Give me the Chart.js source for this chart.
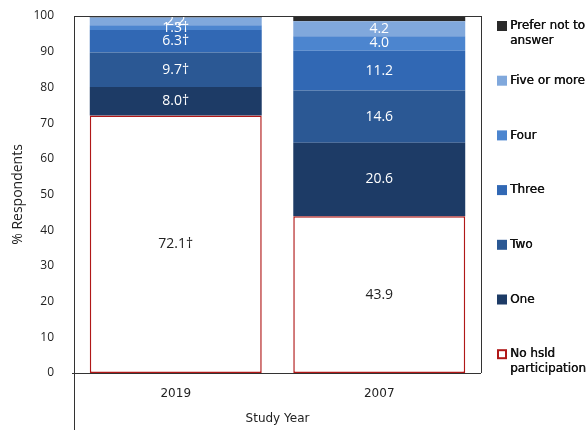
<!DOCTYPE html>
<html>
<head>
<meta charset="utf-8">
<script src="https://cdn.jsdelivr.net/npm/chart.js@4/dist/chart.umd.min.js"></script>
<style>
  html, body { margin: 0; padding: 0; background: #fff; }
  #wrap { width: 588px; height: 430px; position: relative; }
</style>
</head>
<body>
<div id="wrap"><canvas id="chart" width="588" height="430"></canvas></div>
<script>
// categories (study years)
var years = ["2019", "2007"];

// series, bottom to top of the stack
var noHsld   = [72.1, 43.9];
var one      = [8.0, 20.6];
var two      = [9.7, 14.6];
var three    = [6.3, 11.2];
var four     = [1.3, 4.0];
var fiveMore = [2.2, 4.2];
var prefer   = [0.4, 1.5];

// text shown on each segment ("" = no label)
var lblNoHsld   = ["72.1†", "43.9"];
var lblOne      = ["8.0†", "20.6"];
var lblTwo      = ["9.7†", "14.6"];
var lblThree    = ["6.3†", "11.2"];
var lblFour     = ["1.3†", "4.0"];
var lblFiveMore = ["2.2", "4.2"];
var lblPrefer   = ["", ""];

var yTicks = [0, 10, 20, 30, 40, 50, 60, 70, 80, 90, 100];

var PLOT_L = 74, PLOT_T = 16, PLOT_R = 481, PLOT_B = 373;

function mk(label, data, labels, color, txt) {
  return {
    label: label, data: data, segLabels: labels, txtColor: txt,
    backgroundColor: color, borderWidth: 0, borderSkipped: false,
    barPercentage: 0.845, categoryPercentage: 1.0
  };
}

var datasets = [
  {
    label: "No hsld\nparticipation", data: noHsld, segLabels: lblNoHsld, txtColor: "#222",
    backgroundColor: "#ffffff", borderColor: "#b01818", borderWidth: 1.5, borderSkipped: false,
    barPercentage: 0.845, categoryPercentage: 1.0
  },
  mk("One", one, lblOne, "#1d3b66", "#fff"),
  mk("Two", two, lblTwo, "#2b5894", "#fff"),
  mk("Three", three, lblThree, "#3168b4", "#fff"),
  mk("Four", four, lblFour, "#4c85cf", "#fff"),
  mk("Five or more", fiveMore, lblFiveMore, "#80a8dc", "#fff"),
  mk("Prefer not to\nanswer", prefer, lblPrefer, "#2a2a2a", "#fff")
];

// white / dark numbers centred in each segment
var segLabelPlugin = {
  id: "segLabels",
  afterDatasetsDraw: function(chart) {
    var ctx = chart.ctx;
    ctx.save();
    ctx.font = "14px 'Open Sans'";
    ctx.textAlign = "center";
    ctx.textBaseline = "middle";
    chart.data.datasets.forEach(function(ds, di) {
      var meta = chart.getDatasetMeta(di);
      meta.data.forEach(function(bar, i) {
        var t = ds.segLabels[i];
        if (!t) return;
        var p = bar.getProps(["x", "y", "base"], true);
        ctx.fillStyle = ds.txtColor;
        ctx.fillText(t, p.x, (p.y + p.base) / 2);
      });
    });
    ctx.restore();
  }
};

// frame lines + legend on the right
var framePlugin = {
  id: "frame",
  afterDraw: function(chart) {
    var ctx = chart.ctx, a = chart.chartArea;
    ctx.save();
    ctx.strokeStyle = "#333";
    ctx.lineWidth = 1;
    ctx.beginPath();
    ctx.moveTo(a.left + 0.5, a.top); ctx.lineTo(a.left + 0.5, 430);
    ctx.moveTo(a.left, a.top + 0.5); ctx.lineTo(a.right, a.top + 0.5);
    ctx.moveTo(a.right + 0.5, a.top); ctx.lineTo(a.right + 0.5, a.bottom);
    ctx.moveTo(a.left - 2, a.bottom + 0.5); ctx.lineTo(a.right, a.bottom + 0.5);
    ctx.stroke();

    // legend, top item is last dataset
    ctx.font = "12px 'DejaVu Sans'";
    ctx.textBaseline = "middle";
    ctx.textAlign = "left";
    var dsList = chart.data.datasets.slice().reverse();
    dsList.forEach(function(ds, k) {
      var y = 26 + k * 54.7;
      if (ds.borderWidth > 0) {
        ctx.fillStyle = "#fff";
        ctx.fillRect(497, y - 5, 10, 10);
        ctx.strokeStyle = ds.borderColor;
        ctx.lineWidth = 2;
        ctx.strokeRect(498, y - 4, 8, 8);
      } else {
        ctx.fillStyle = ds.backgroundColor;
        ctx.fillRect(497, y - 5, 10, 10);
      }
      ctx.fillStyle = "#111";
      ds.label.split("\n").forEach(function(line, j) {
        ctx.fillText(line, 510, y + j * 15);
        ctx.fillText(line, 510.4, y + j * 15);
      });
    });
    ctx.restore();
  }
};

new Chart(document.getElementById("chart"), {
  type: "bar",
  data: { labels: years, datasets: datasets },
  options: {
    responsive: false,
    animation: false,
    layout: { padding: { top: PLOT_T, right: 588 - PLOT_R, left: 6, bottom: 0 } },
    plugins: { legend: { display: false }, tooltip: { enabled: false } },
    scales: {
      x: {
        stacked: true,
        grid: { display: false, drawTicks: false },
        border: { display: false },
        ticks: { color: "#222", font: { family: "DejaVu Sans", size: 12 }, padding: 14 },
        title: { display: true, text: "Study Year", color: "#222",
                 font: { family: "DejaVu Sans", size: 12 }, padding: { top: 8 } },
        afterFit: function(s) { s.height = 430 - PLOT_B; s.paddingLeft = 0; s.paddingRight = 0; }
      },
      y: {
        stacked: true,
        min: 0, max: 100,
        afterBuildTicks: function(s) { s.ticks = yTicks.map(function(v) { return { value: v }; }); },
        grid: { display: false, drawTicks: false },
        border: { display: false },
        ticks: { color: "#222", font: { family: "Open Sans", size: 12 }, padding: 20 },
        title: { display: true, text: "% Respondents", color: "#222",
                 font: { family: "Open Sans", size: 14 }, padding: { bottom: 4 } },
        afterFit: function(s) { s.width = PLOT_L - 6; s.paddingTop = 0; s.paddingBottom = 0; }
      }
    }
  },
  plugins: [segLabelPlugin, framePlugin]
});
</script>
</body>
</html>
